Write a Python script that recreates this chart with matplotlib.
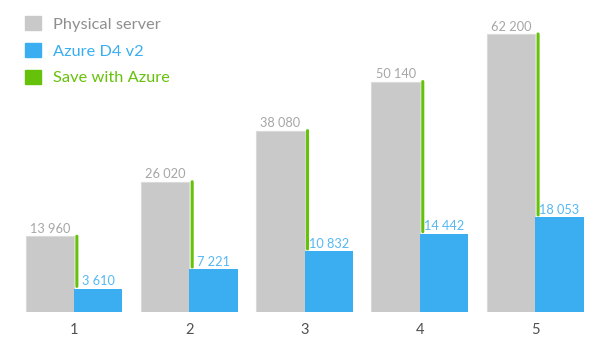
import numpy as np
import matplotlib
matplotlib.use("Agg")
import matplotlib.pyplot as plt
from matplotlib.patches import Patch

plt.rcParams['font.family'] = ['Lato', 'DejaVu Sans']

# data
groups = [1, 2, 3, 4, 5]
physical = [13960, 26020, 38080, 50140, 62200]
azure = [3610, 7221, 10832, 14442, 18053]
labels = ["Physical server", "Azure D4 v2", "Save with Azure"]

GREY = "#c9c9c9"
BLUE = "#3aaef0"
GREEN = "#66c10a"
GREY_TXT = "#a6a6a6"
BLUE_TXT = "#55b8f2"

# the source graphic is not quite linear; a mild power scale fits it
P = 0.87


def fwd(v):
    return np.sign(v) * np.abs(v) ** P


def inv(v):
    return np.sign(v) * np.abs(v) ** (1 / P)


def fmt(v):
    return f"{v:,}".replace(",", " ")


fig = plt.figure(figsize=(6.06, 3.5), dpi=100)
ax = fig.add_axes([0, 1 - 312 / 350, 1, 312 / 350])
ax.set_yscale('function', functions=(fwd, inv))

w = 0.42
x = np.array(groups)
ax.bar(x - w / 2, physical, width=w, color=GREY, edgecolor="#dadada", linewidth=0.8)
ax.bar(x + w / 2, azure, width=w, color=BLUE, linewidth=0)

for xi, p, a in zip(x, physical, azure):
    ax.annotate("", xy=(xi + 0.025, a), xytext=(xi + 0.025, p),
                arrowprops=dict(arrowstyle="-", color=GREEN, lw=2.2,
                                shrinkA=0, shrinkB=1.6))
    ax.annotate(fmt(p), (xi - w / 2, p), xytext=(0, 2.5), textcoords="offset points",
                ha="center", va="baseline", fontsize=9.2, color=GREY_TXT)
    ax.annotate(fmt(a), (xi + w / 2, a), xytext=(0, 2.5), textcoords="offset points",
                ha="center", va="baseline", fontsize=9.2, color=BLUE_TXT)

ax.set_xlim(1 - 74 / 115.3, 1 + 532 / 115.3)
top = 62200 * (312 / 278) ** (1 / P)
ax.set_ylim(0, top)

ax.set_xticks(x)
ax.set_xticklabels([str(g) for g in groups], fontsize=10.5, color="#505050")
ax.tick_params(axis="x", length=0, pad=8)
ax.set_yticks([])
ax.yaxis.set_minor_locator(matplotlib.ticker.NullLocator())
for s in ax.spines.values():
    s.set_visible(False)

handles = [Patch(color=GREY), Patch(color=BLUE), Patch(color=GREEN)]
leg = fig.legend(handles, labels, loc="upper left", bbox_to_anchor=(25 / 606, 1 - 16 / 350),
                 frameon=False, fontsize=11.8,
                 handlelength=0.95, handleheight=0.95,
                 handletextpad=0.75, labelspacing=0.68, borderpad=0, borderaxespad=0,
                 labelcolor=["#8f8f8f", BLUE, GREEN])

fig.savefig("out.png", dpi=100)
